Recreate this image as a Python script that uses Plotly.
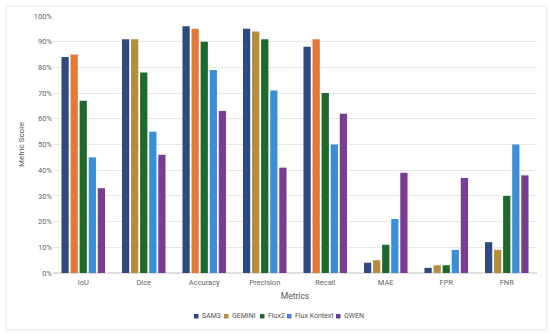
import plotly.graph_objects as go

metrics = ["IoU", "Dice", "Accuracy", "Precision", "Recall", "MAE", "FPR", "FNR"]
sam3 = [84, 91, 96, 95, 88, 4, 2, 12]
gemini = [85, 91, 95, 94, 91, 5, 3, 9]
flux2 = [67, 78, 90, 91, 70, 11, 3, 30]
flux_kontext = [45, 55, 79, 71, 50, 21, 9, 50]
qwen = [33, 46, 63, 41, 62, 39, 37, 38]
y_ticks = [0, 10, 20, 30, 40, 50, 60, 70, 80, 90, 100]

OLIVE = "#b38f3c"
ORANGE = "#e5793a"
gemini_colors = [ORANGE, OLIVE, ORANGE, OLIVE, ORANGE, OLIVE, OLIVE, OLIVE]

series = [
    ("SAM3", sam3, "#2f4a7e", "#2f4a7e"),
    ("GEMINI", gemini, gemini_colors, OLIVE),
    ("Flux2", flux2, "#1e6a2c", "#1e6a2c"),
    ("Flux Kontext", flux_kontext, "#3b8ed6", "#4a7fd0"),
    ("QWEN", qwen, "#7a3d93", "#6a3b8c"),
]

# plot area in pixels
L, R, T, B = 53, 537, 16, 273
W, H = R - L, B - T


def px(x):
    return (x - L) / W


def py(y):
    return (B - y) / H


fig = go.Figure()
for name, vals, color, _ in series:
    fig.add_trace(go.Bar(
        name=name, x=metrics, y=vals, offsetgroup=name,
        marker=dict(color=color, line=dict(width=0)),
        hovertemplate="%{x}: %{y}%<extra>" + name + "</extra>",
        showlegend=False,
    ))

font_family = "Roboto, Noto Sans, sans-serif"

# manual compact legend (small squares + labels)
legend_pos = [196, 226, 262, 289, 338]
shapes = [dict(type="rect", xref="paper", yref="paper",
               x0=px(6), x1=px(547), y0=py(330), y1=py(6),
               line=dict(color="#e4e4e4", width=1), layer="below")]
annotations = []
for (name, _, _, lcol), x0 in zip(series, legend_pos):
    shapes.append(dict(type="rect", xref="paper", yref="paper",
                       x0=px(x0 - 2), x1=px(x0 + 2.5), y0=py(318.5), y1=py(314),
                       fillcolor=lcol, line=dict(width=0)))
    annotations.append(dict(xref="paper", yref="paper", x=px(x0 + 3.5), y=py(316.3),
                            xanchor="left", yanchor="middle", showarrow=False,
                            text=name, font=dict(size=7, color="#555555", family=font_family)))

fig.update_layout(
    width=550, height=333,
    margin=dict(l=L, r=550 - R, t=T, b=333 - B, autoexpand=False),
    paper_bgcolor="white", plot_bgcolor="white",
    barmode="group", bargap=0.25, bargroupgap=0.2,
    font=dict(family=font_family, size=8, color="#666666"),
    showlegend=False,
    xaxis=dict(title=dict(text="Metrics", font=dict(size=8.5, color="#555555"), standoff=7),
               showgrid=False, showline=False, ticks="", automargin=False,
               ticklabelstandoff=3,
               tickfont=dict(size=7.5, color="#666666")),
    yaxis=dict(title=dict(text="Metric Score", font=dict(size=8, color="#555555"), standoff=8),
               range=[0, 100], tickvals=y_ticks, ticktext=[f"{v}%" for v in y_ticks],
               gridcolor="#e8e8e8", gridwidth=1, zeroline=True, zerolinecolor="#e0e0e0",
               showline=False, ticks="", automargin=False,
               tickfont=dict(size=7.5, color="#666666")),
    shapes=shapes,
    annotations=annotations,
)

fig.write_html(
    "out.html",
    config={"displayModeBar": False},
    post_script="document.body.style.margin='0';document.body.style.padding='0';",
)
